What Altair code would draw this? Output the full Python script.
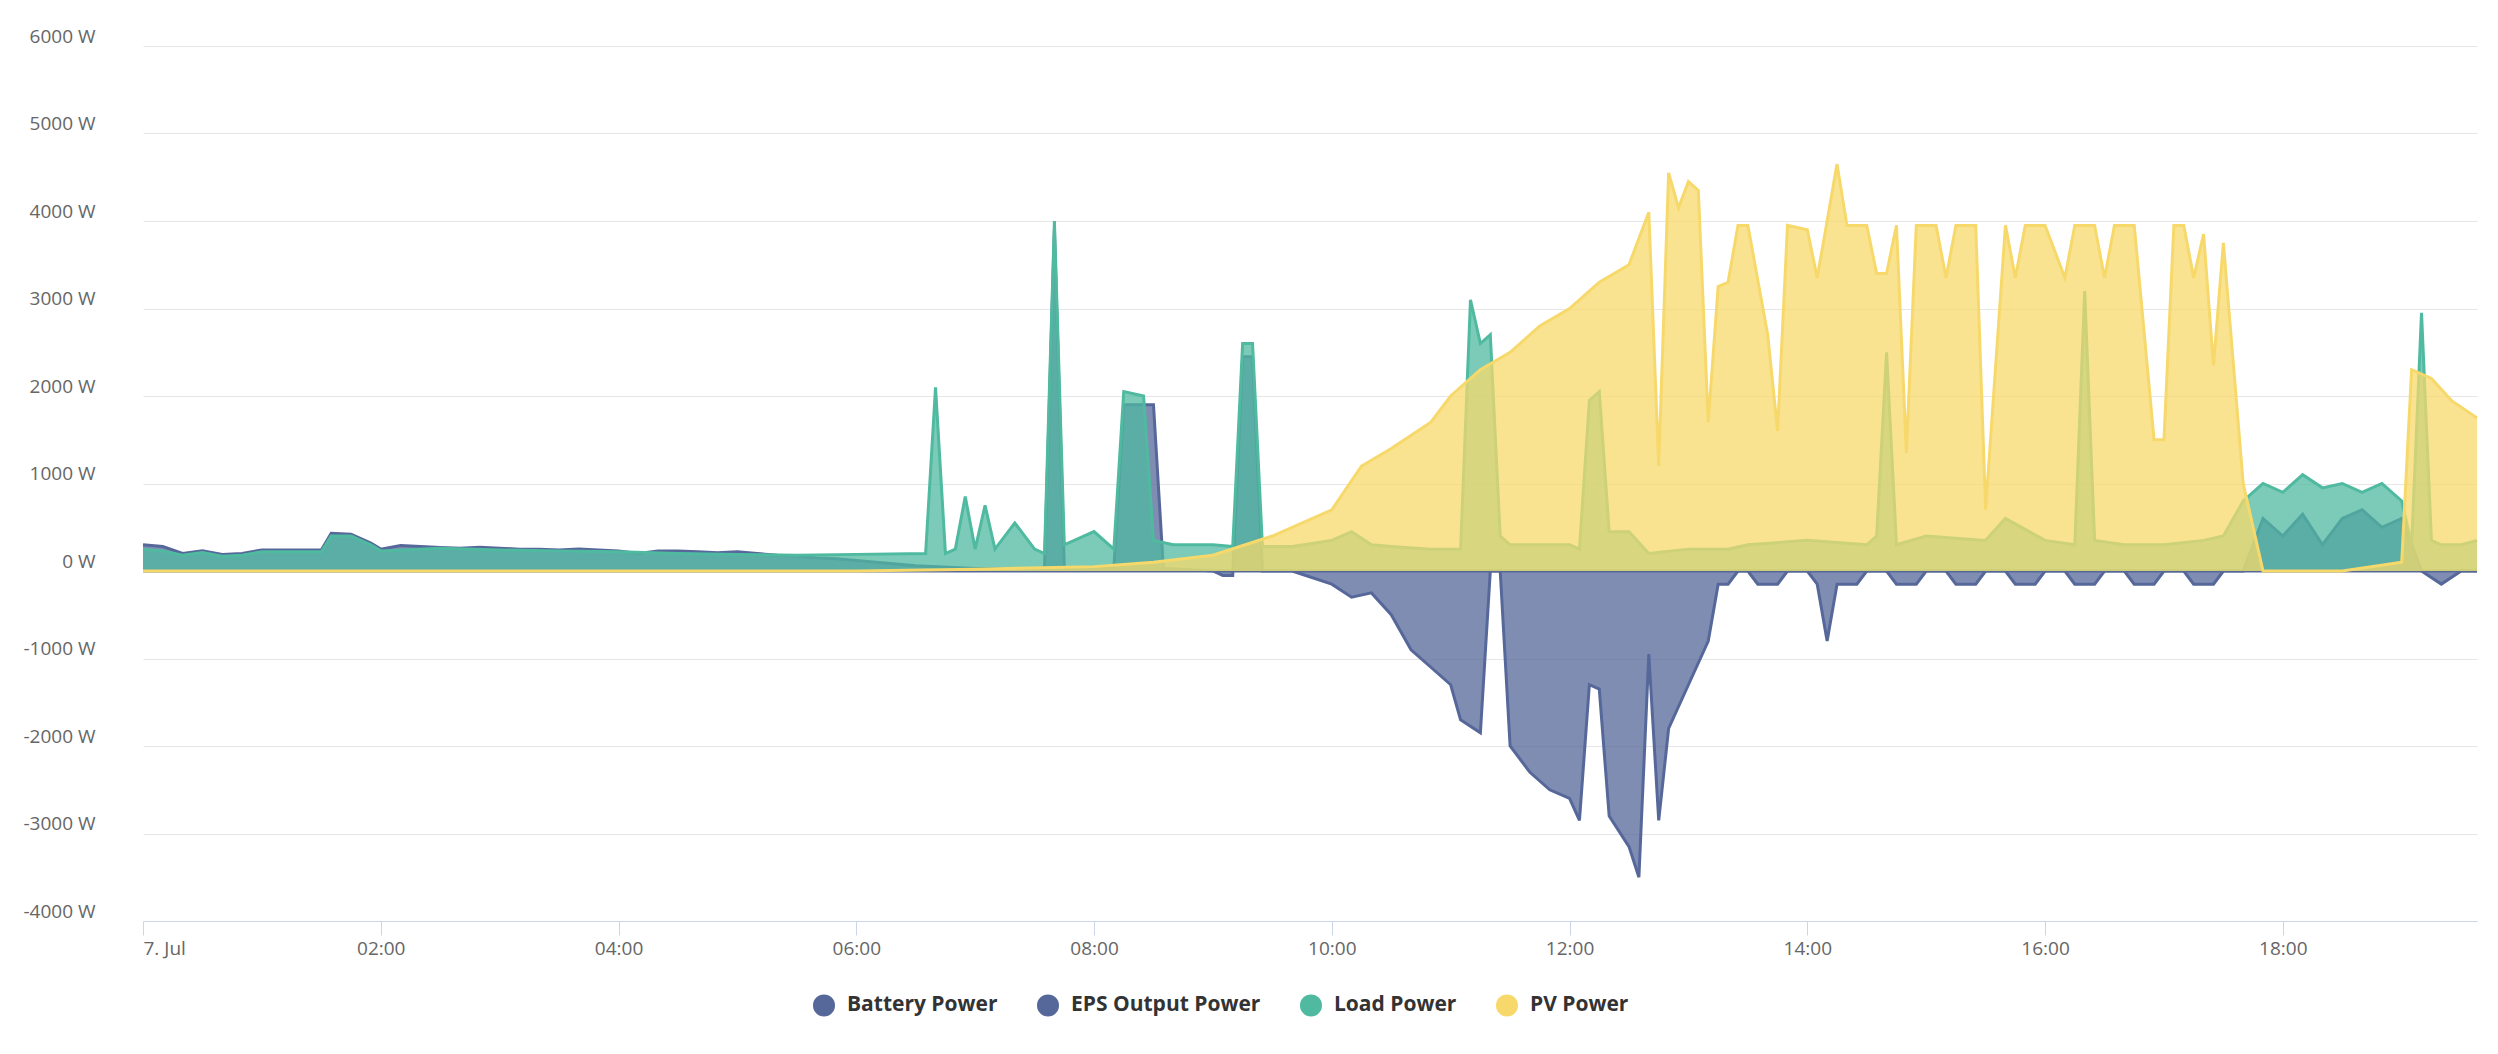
import altair as alt
import pandas as pd

bat_t = ["00:00","00:10","00:20","00:30","00:40","00:50","01:00","01:10","01:20","01:30","01:35","01:45","01:55","02:00","02:10","02:20","02:30","02:40","02:50","03:00","03:10","03:20","03:30","03:40","03:50","04:00","04:10","04:20","04:30","04:40","04:50","05:00","05:10","05:20","05:30","05:40","05:50",
         "06:00","06:30","07:00","07:35","07:40","07:45","08:10","08:15","08:30","08:35","09:00","09:05","09:10","09:15","09:20","09:25","09:40",
         "10:00","10:10","10:20","10:30","10:40","10:50","11:00","11:05","11:15","11:20","11:25","11:30","11:40","11:50","12:00","12:05","12:10","12:15","12:20","12:30","12:35","12:40","12:45","12:50","13:00","13:10","13:15","13:20","13:25","13:30","13:35","13:45","13:50","14:00","14:05","14:10","14:15","14:25","14:30","14:40","14:45","14:55","15:00","15:10","15:15","15:25","15:30","15:40","15:45","15:55","16:00","16:10","16:15","16:25","16:30","16:40","16:45","16:55","17:00","17:10","17:15","17:25","17:30",
         "17:40","17:50","18:00","18:10","18:20","18:30","18:40","18:50","19:00","19:10","19:20","19:30","19:38"]
bat_v = [300,280,200,230,190,200,240,240,240,240,430,420,320,250,290,280,270,260,270,260,250,250,240,250,240,230,200,230,230,220,210,220,200,180,170,150,140,
         120,60,30,30,3900,30,30,1900,1900,30,0,-50,-50,2450,2450,0,0,
         -150,-300,-250,-500,-900,-1100,-1300,-1700,-1850,0,0,-2000,-2300,-2500,-2600,-2850,-1300,-1350,-2800,-3150,-3500,-950,-2850,-1800,-1300,-800,-150,-150,0,0,-150,-150,0,0,-150,-800,-150,-150,0,0,-150,-150,0,0,-150,-150,0,0,-150,-150,0,0,-150,-150,0,0,-150,-150,0,0,-150,-150,0,
         0,600,400,650,300,600,700,500,600,0,-150,0,0]

load_t = ["00:00","00:10","00:20","00:30","00:40","00:50","01:00","01:10","01:20","01:30","01:35","01:45","01:55","02:00","02:30","03:00","03:30","04:00","04:30","05:00","05:30","06:00","06:35","06:40","06:45","06:50","06:55","07:00","07:05","07:10","07:20","07:30","07:35","07:40","07:45","08:00","08:10","08:15","08:25","08:30","08:40","08:50","09:00","09:10","09:15","09:20","09:25","09:40","10:00","10:10","10:20","10:30","10:50","11:05","11:10","11:15","11:20","11:25","11:30","11:40","12:00","12:05","12:10","12:15","12:20","12:30","12:40","13:00","13:10","13:20","13:30","14:00","14:30","14:35","14:40","14:45","15:00","15:30","15:40","16:00","16:15","16:20","16:25","16:40","17:00","17:20","17:30","17:40","17:50","18:00","18:10","18:20","18:30","18:40","18:50","19:00","19:05","19:10","19:15","19:20","19:30","19:38"]
load_v = [250,230,180,210,170,180,220,220,220,220,400,400,300,230,260,240,230,220,200,190,180,190,200,2100,200,250,850,250,750,250,550,250,200,4000,300,450,250,2050,2000,350,300,300,300,280,2600,2600,280,280,350,450,300,280,250,250,3100,2600,2700,400,300,300,300,250,1950,2050,450,450,200,250,250,250,300,350,300,400,2500,300,400,350,600,350,300,3200,350,300,300,350,400,800,1000,900,1100,950,1000,900,1000,800,300,2950,350,300,300,350]

pv_t = ["00:00","05:00","06:00","07:00","08:00","08:30","09:00","09:30","10:00","10:15","10:30","10:50","11:00","11:15","11:30","11:45","12:00","12:15","12:30","12:40","12:45","12:50","12:55","13:00","13:05","13:10","13:15","13:20","13:25","13:30","13:40","13:45","13:50","14:00","14:05","14:15","14:20","14:30","14:35","14:40","14:45","14:50","14:55","15:05","15:10","15:15","15:25","15:30","15:40","15:45","15:50","16:00","16:10","16:15","16:25","16:30","16:35","16:45","16:55","17:00","17:05","17:10","17:15","17:20","17:25","17:30","17:40","17:50","18:30","19:00","19:05","19:15","19:25","19:38"]
pv_v = [0,0,0,20,50,100,180,400,700,1200,1400,1700,2000,2300,2500,2800,3000,3300,3500,4100,1200,4550,4150,4450,4350,1700,3250,3300,3950,3950,2700,1600,3950,3900,3350,4650,3950,3950,3400,3400,3950,1350,3950,3950,3350,3950,3950,700,3950,3350,3950,3950,3350,3950,3950,3350,3950,3950,1500,1500,3950,3950,3350,3850,2350,3750,1000,0,0,100,2300,2200,1950,1750]

eps_t = ["00:00","19:38"]
eps_v = [0,0]

names = ["Battery Power","EPS Output Power","Load Power","PV Power"]
colors = ["#56679a","#56679a","#4fbaa0","#f7d96b"]
rows = []
for n,(ts,vs) in zip(names,[(bat_t,bat_v),(eps_t,eps_v),(load_t,load_v),(pv_t,pv_v)]):
    for t,v in zip(ts,vs):
        rows.append({"series":n,"time":"2024-07-07T"+t+":00","value":v})
df = pd.DataFrame(rows)

xenc = alt.X("time:T", title=None, scale=alt.Scale(domain=["2024-07-07T00:00:00","2024-07-07T19:38:00"]),
             axis=alt.Axis(values=[f"2024-07-07T{h:02d}:00:00" for h in range(0,20,2)],
                           labelExpr="hours(datum.value)==0 ? '7. Jul' : timeFormat(datum.value,'%H:%M')",
                           grid=False, domainColor="#ccd6eb", tickColor="#ccd6eb", tickSize=14,
                           labelColor="#666666", labelFontSize=19, labelPadding=4))
yenc = alt.Y("value:Q", title=None, scale=alt.Scale(domain=[-4000,6000], nice=False),
             axis=alt.Axis(values=list(range(-4000,6001,1000)), labelExpr="datum.value + ' W'",
                           domain=False, ticks=False, gridColor="#e6e6e6", labelColor="#666666",
                           labelFontSize=19, labelPadding=48, labelBaseline="bottom"))
color = alt.Color("series:N", scale=alt.Scale(domain=names, range=colors),
                  legend=alt.Legend(title=None, orient="none", legendX=670, legendY=948, direction="horizontal",
                                    symbolType="circle", symbolSize=420, labelLimit=0,
                                    symbolOpacity=1, labelFontSize=21, labelFontWeight="bold",
                                    labelColor="#333333", columnPadding=36, labelOffset=12))
layers = []
for n in names:
    layers.append(alt.Chart(df[df.series==n]).mark_area(opacity=0.75, line={"strokeWidth":3}).encode(
        x=xenc, y=yenc, color=color))
chart = alt.layer(*layers).properties(
    width=2334, height=875, autosize=alt.AutoSizeParams(type="none"),
    padding={"left":135,"top":38,"right":10,"bottom":120}
).configure(font="Open Sans").configure_view(strokeWidth=0)
chart.save("out.html", embed_options={"renderer": "svg", "actions": False})
